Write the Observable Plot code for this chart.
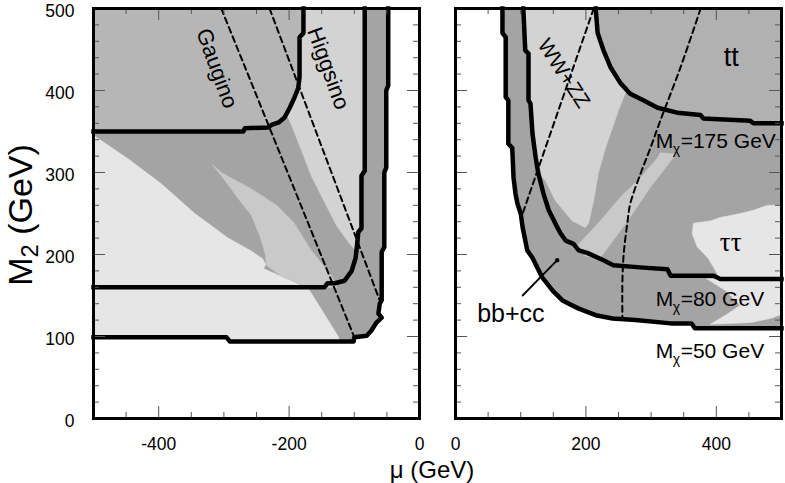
<!DOCTYPE html>
<html><head><meta charset="utf-8">
<script src="https://cdn.jsdelivr.net/npm/d3@7"></script>
<script src="https://cdn.jsdelivr.net/npm/@observablehq/plot@0.6"></script>
<style>
body{margin:0;background:#fff;}
#wrap{position:relative;width:785px;height:483px;font-family:"Liberation Sans",Arial,sans-serif;overflow:hidden;}
#left{position:absolute;left:0;top:0;}
#right{position:absolute;left:430px;top:0;}
#ylab{position:absolute;left:-80px;top:196px;width:200px;line-height:38px;text-align:center;font-size:34px;transform:rotate(-90deg);color:#000;white-space:nowrap;}
#ylab sub{font-size:0.7em;vertical-align:-0.25em;line-height:0;}
#xlab{position:absolute;left:362px;top:456px;width:140px;height:27px;line-height:27px;text-align:center;font-size:24px;color:#000;white-space:nowrap;}
</style></head><body>
<div id="wrap"><div id="left"></div><div id="right"></div>
<div id="ylab">M<sub>2</sub> (GeV)</div>
<div id="xlab">μ (GeV)</div></div>
<script>
// ---- axes ----
const yMajorTicks = [0,100,200,300,400,500];
const yMinorTicks = [20,40,60,80,120,140,160,180,220,240,260,280,320,340,360,380,420,440,460,480];
const xLeftMajor = [-400,-200];
const xLeftMinor = [-450,-350,-300,-250,-150,-100,-50];
const xRightMajor = [200,400];
const xRightMinor = [50,100,150,250,300,350,450];
const xLeftLabels = [-400,-200,0];
const xRightLabels = [0,200,400];
const yLabels = [0,100,200,300,400,500];

// ---- left panel (mu < 0) ----
const contour175Left = [[-500,350],[-270,350],[-268,354],[-232,355],[-227,358],[-216,361],[-207,367],[-199,379],[-192,391],[-186,403],[-184,416],[-184,465],[-178,470],[-178,500]];
const contour80Left = [[-500,160],[-146,160],[-141,165],[-130,165],[-115,168],[-104,180],[-98,196],[-95,217],[-94,227],[-89,232],[-89,296],[-84,302],[-84,500]];
const contour50Left = [[-500,99],[-296,99],[-291,94],[-101,94],[-100,99],[-81,101],[-74,107],[-66,117],[-58,123],[-63,128],[-61,140],[-58,144],[-58,203],[-54,209],[-54,300],[-51,306],[-51,400],[-48,406],[-48,500]];
const gauginoLine = [[-304,500],[-101,101]];
const higgsinoLine = [[-230,500],[-61,144]];

const lightestLeft = [...contour50Left, [-500,500]];
const darkLeft = [[-500,350],[-500,346],[-448,318],[-396,287],[-345,251],[-294,221],[-258,205],[-240,195],[-235,188],[-238,183],[-212,174],[-170,159],[-123,99],[-123,94],[-101,94],[-100,99],[-81,101],[-74,107],[-66,117],[-58,123],[-63,128],[-61,140],[-58,144],[-58,203],[-54,209],[-54,300],[-51,306],[-51,400],[-48,406],[-48,500],[-178,500],[-178,470],[-184,465],[-184,416],[-186,403],[-192,391],[-199,379],[-207,367],[-216,361],[-227,358],[-232,355],[-268,354],[-270,350]];
const stripeLeft = [[-317,309],[-304,300],[-258,280],[-219,260],[-193,239],[-166,205],[-135,174],[-127,160],[-170,160],[-212,174],[-235,187],[-236,199],[-245,223],[-258,248],[-273,263],[-304,296]];
const higgsinoLeft = [[-178,500],[-178,470],[-184,465],[-184,416],[-186,403],[-192,391],[-199,379],[-204,370],[-199,363],[-181,327],[-166,296],[-147,266],[-127,235],[-109,215],[-98,205],[-95,217],[-94,227],[-89,232],[-89,296],[-84,302],[-84,500]];
const topLeft = [[-500,500],[-178,500],[-178,470],[-184,465],[-184,416],[-186,403],[-192,391],[-199,379],[-207,367],[-216,361],[-227,358],[-232,355],[-268,354],[-270,350],[-500,350]];

// ---- right panel (mu > 0) ----
const contour50Right = [[72,500],[72,470],[77,465],[77,392],[81,388],[81,335],[87,330],[89,294],[92,274],[95,262],[100,250],[103,233],[107,217],[110,205],[118,196],[133,172],[149,156],[164,144],[189,134],[215,126],[241,122],[276,120],[330,116],[362,116],[367,110],[500,110]];
const contour80Right = [[104,500],[107,449],[112,445],[112,388],[115,384],[118,348],[123,318],[127,299],[135,274],[143,254],[153,238],[161,226],[169,217],[181,213],[189,205],[202,202],[227,193],[242,187],[288,184],[325,182],[330,174],[396,174],[406,170],[500,170]];
const contour175Right = [[215,500],[218,470],[227,449],[238,428],[253,409],[268,396],[288,388],[310,379],[340,373],[376,370],[380,366],[452,363],[457,360],[500,360]];
const wwLine = [[212,500],[103,250]];
const rightDashLine = [[376,500],[345,428],[314,363],[299,330],[284,299],[268,262],[264,241],[258,201],[256,168],[256,120]];

const darkRight = [...contour50Right, [500,500]];
const wwRegion = [[104,500],[215,500],[218,470],[227,449],[238,428],[253,409],[262,400],[250,376],[241,355],[230,330],[219,299],[212,266],[204,238],[199,233],[179,241],[153,266],[138,290],[127,299],[123,318],[118,348],[115,384],[112,388],[112,445],[107,449]];
const stripeRight = [[187,211],[222,241],[253,270],[284,294],[310,318],[314,324],[334,323],[334,318],[299,282],[264,241],[238,213],[222,196],[200,198]];
const tautauRegion = [[363,226],[365,238],[391,241],[406,245],[437,250],[457,254],[479,260],[500,260],[500,170],[406,170],[396,184],[387,196],[371,209]];
const lowerLightRight = [[386,170],[414,156],[437,138],[414,126],[391,115],[452,117],[483,122],[500,127],[500,170]];
const ttRegion = [[215,500],[500,500],[500,360],[457,360],[452,363],[380,366],[376,370],[340,373],[310,379],[288,388],[268,396],[253,409],[238,428],[227,449],[218,470]];

// ---- labels ----
const leftRotLabels = [{label:"Gaugino", mu:-311, m2:427},{label:"Higgsino", mu:-140, m2:427}];
const wwLabel = [{label:"WW+ZZ", mu:166, m2:421}];
const ttLabel = [{label:"tt", mu:423, m2:440}];
const tautauLabel = [{label:"ττ", mu:422, m2:215}];
const bbLabel = [{label:"bb+cc", mu:85, m2:128}];
const bbArrow = [[103,150],[156,193]];
const massLabels = [{mass:"=175 GeV", mu:307, m2:338},{mass:"=80 GeV", mu:307, m2:145},{mass:"=50 GeV", mu:307, m2:82}];

const FONT = "Liberation Sans, Arial, Helvetica, sans-serif";
const FW = 326, FH = 410;
const C = {lightest:"#e6e6e6", light:"#d3d3d3", stripe:"#c9c9c9", medium:"#b6b6b6", tt:"#b1b1b1", dark:"#a4a4a4"};

function poly(d, color){ return Plot.line(d, {curve:"linear-closed", fill:color, stroke:color, strokeWidth:0.6}); }
function contour(d){ return Plot.line(d, {stroke:"#000", strokeWidth:4.5, strokeLinejoin:"round", strokeLinecap:"square"}); }
function dashed(d, curve){ return Plot.line(d, {stroke:"#000", strokeWidth:2, strokeDasharray:"6,4", curve: curve||"linear"}); }
function ticks(xMajor, xMinor){
  const tc = "#555";
  return [
    Plot.tickY(yMajorTicks, {y:d=>d, insetRight:FW-12, stroke:tc}),
    Plot.tickY(yMinorTicks, {y:d=>d, insetRight:FW-6, stroke:tc}),
    Plot.tickY(yMajorTicks, {y:d=>d, insetLeft:FW-12, stroke:tc}),
    Plot.tickY(yMinorTicks, {y:d=>d, insetLeft:FW-6, stroke:tc}),
    Plot.tickX(xMajor, {x:d=>d, insetTop:FH-12, stroke:tc}),
    Plot.tickX(xMinor, {x:d=>d, insetTop:FH-6, stroke:tc}),
    Plot.tickX(xMajor, {x:d=>d, insetBottom:FH-12, stroke:tc}),
    Plot.tickX(xMinor, {x:d=>d, insetBottom:FH-6, stroke:tc})
  ];
}

const leftPlot = Plot.plot({
  width:430, height:483, marginLeft:93, marginRight:11, marginTop:8, marginBottom:65,
  style:{fontFamily:FONT, fontSize:"17px", background:"#fff", color:"#000"},
  x:{domain:[-500,0], label:null},
  y:{domain:[0,500], label:null},
  marks:[
    poly(lightestLeft, C.lightest),
    poly(darkLeft, C.dark),
    poly(stripeLeft, C.stripe),
    poly(higgsinoLeft, C.light),
    poly(topLeft, C.medium),
    dashed(gauginoLine),
    dashed(higgsinoLine),
    contour(contour175Left),
    contour(contour80Left),
    contour(contour50Left),
    ...ticks(xLeftMajor, xLeftMinor),
    Plot.frame({stroke:"#000", strokeWidth:3}),
    Plot.axisX({ticks:xLeftLabels, tickSize:0, tickPadding:19, tickFormat:d=>String(d), fontSize:17.5, label:null}),
    Plot.axisY({ticks:yLabels, tickSize:0, tickPadding:19, dy:3, tickFormat:d=>String(d), fontSize:17.5, label:null}),
    Plot.text(leftRotLabels, {x:"mu", y:"m2", text:"label", rotate:70, fontSize:22, fill:"#000"})
  ]
});
document.getElementById("left").appendChild(leftPlot);

const rightPlot = Plot.plot({
  width:355, height:483, marginLeft:25, marginRight:4, marginTop:8, marginBottom:65,
  style:{fontFamily:FONT, fontSize:"17px", background:"#fff", color:"#000"},
  x:{domain:[0,500], label:null},
  y:{domain:[0,500], label:null, axis:null},
  marks:[
    poly(darkRight, C.dark),
    poly(wwRegion, C.light),
    poly(stripeRight, C.stripe),
    poly(tautauRegion, C.lightest),
    poly(lowerLightRight, C.lightest),
    poly(ttRegion, C.tt),
    dashed(wwLine),
    dashed(rightDashLine, "catmull-rom"),
    contour(contour175Right),
    contour(contour80Right),
    contour(contour50Right),
    ...ticks(xRightMajor, xRightMinor),
    Plot.frame({stroke:"#000", strokeWidth:3}),
    Plot.axisX({ticks:xRightLabels, tickSize:0, tickPadding:19, tickFormat:d=>String(d), fontSize:17.5, label:null}),
    Plot.text(wwLabel, {x:"mu", y:"m2", text:"label", rotate:57, fontSize:21, fill:"#000"}),
    Plot.text(ttLabel, {x:"mu", y:"m2", text:"label", fontSize:27, fill:"#000"}),
    Plot.text(tautauLabel, {x:"mu", y:"m2", text:"label", fontSize:27, fontFamily:"Liberation Serif, Times New Roman, serif", fill:"#000"}),
    Plot.text(bbLabel, {x:"mu", y:"m2", text:"label", fontSize:25, fill:"#000"}),
    Plot.line(bbArrow, {stroke:"#000", strokeWidth:1.8}),
    Plot.dot(bbArrow.slice(1), {r:2.2, fill:"#000"}),
    Plot.text(massLabels, {x:"mu", y:"m2", text:()=>"M", textAnchor:"start", fontSize:21, fill:"#000"}),
    Plot.text(massLabels, {x:"mu", y:"m2", text:()=>"χ", textAnchor:"start", dx:17, dy:8, fontSize:14, fill:"#000"}),
    Plot.text(massLabels, {x:"mu", y:"m2", text:"mass", textAnchor:"start", dx:25, fontSize:21, fill:"#000"})
  ]
});
document.getElementById("right").appendChild(rightPlot);
</script>
</body></html>
